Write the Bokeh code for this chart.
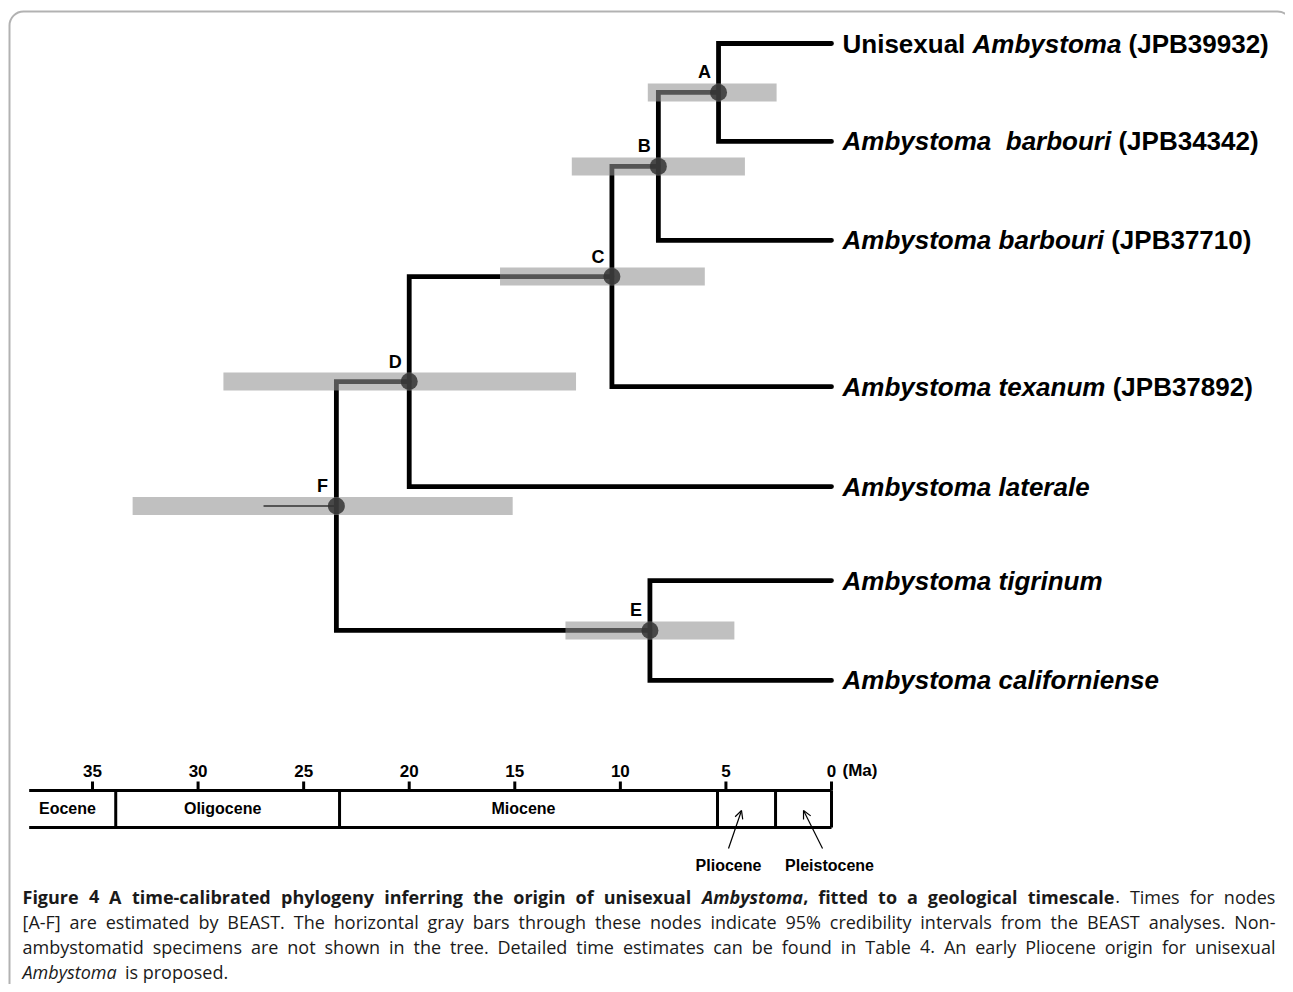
from bokeh.plotting import figure
from bokeh.models import Range1d, BoxAnnotation, Arrow, OpenHead, ColumnDataSource
from bokeh.core.properties import value, field
from bokeh.embed import file_html
from bokeh.resources import INLINE

# ---------------- data ----------------
# tips, top to bottom; each label is a list of (text, style, spaces before) runs
tip_labels = [
    [("Unisexual", "bold", 0), ("Ambystoma", "bold italic", 1), ("(JPB39932)", "bold", 1)],
    [("Ambystoma", "bold italic", 0), ("barbouri", "bold italic", 2), ("(JPB34342)", "bold", 1)],
    [("Ambystoma barbouri", "bold italic", 0), ("(JPB37710)", "bold", 1)],
    [("Ambystoma texanum", "bold italic", 0), ("(JPB37892)", "bold", 1)],
    [("Ambystoma laterale", "bold italic", 0)],
    [("Ambystoma tigrinum", "bold italic", 0)],
    [("Ambystoma californiense", "bold italic", 0)],
]
tip_rows = [0.0, 0.99, 1.99, 3.47, 4.48, 5.43, 6.44]

node_names = ["A", "B", "C", "D", "E", "F"]
node_age = [5.35, 8.2, 10.4, 20.0, 8.6, 23.45]        # Ma
hpd_young = [2.6, 4.1, 6.0, 12.1, 4.6, 15.1]          # 95% interval, young end (Ma)
hpd_old = [8.7, 12.3, 15.7, 28.8, 12.6, 33.1]         # 95% interval, old end (Ma)
node_children = [("t0", "t1"), ("A", "t2"), ("B", "t3"), ("C", "t4"), ("t5", "t6"), ("D", "E")]
root_stem_age = 26.9

epochs = ["Eocene", "Oligocene", "Miocene", "Pliocene", "Pleistocene"]
epoch_old = [38.0, 33.9, 23.3, 5.4, 2.65]
epoch_young = [33.9, 23.3, 5.4, 2.65, 0.0]
tick_values = [35, 30, 25, 20, 15, 10, 5, 0]
tick_labels = ["35", "30", "25", "20", "15", "10", "5", "0"]

caption_runs = [
    [("Figure 4 A time-calibrated phylogeny inferring the origin of unisexual ", "bold"),
     ("Ambystoma", "bold italic"), (", fitted to a geological timescale", "bold"),
     (". Times for nodes", "normal")],
    [("[A-F] are estimated by BEAST. The horizontal gray bars through these nodes indicate "
      "95% credibility intervals from the BEAST analyses. Non-", "normal")],
    [("ambystomatid specimens are not shown in the tree. Detailed time estimates can be found "
      "in Table 4. An early Pliocene origin for unisexual", "normal")],
    [("Ambystoma", "italic"), (" is proposed.", "normal")],
]
caption_justify = [True, True, True, False]

# ---------------- layout ----------------
FIG_W, FIG_H, PAGE_OFF = 1285, 984, 0
PX_PER_MA = 21.114
X0_PAGE = 831.0        # page x of 0 Ma
ROW_PX = 98.9
ROW0_PAGE = 43.0


def ma_at(px):
    return (X0_PAGE - px) / PX_PER_MA


def row_at(py):
    return (py - ROW0_PAGE) / ROW_PX


# font metrics (em units) for placing mixed-style runs
AB = {' ': .278, '(': .333, ')': .333, 'A': .722, 'B': .722, 'J': .556, 'P': .667, 'U': .722,
      'a': .556, 'b': .611, 'c': .556, 'e': .556, 'f': .333, 'g': .611, 'i': .278, 'l': .278,
      'm': .889, 'n': .611, 'o': .611, 'r': .389, 's': .556, 't': .333, 'u': .611, 'x': .556,
      'y': .556}
for d in "0123456789":
    AB[d] = .556

OS_R = {' ': .26, 'a': .556, 'b': .613, 'c': .476, 'd': .613, 'e': .561, 'f': .339, 'g': .548,
        'h': .614, 'i': .253, 'j': .253, 'k': .525, 'l': .253, 'm': .93, 'n': .614, 'o': .604,
        'p': .613, 'q': .613, 'r': .408, 's': .477, 't': .353, 'u': .614, 'v': .501, 'w': .778,
        'x': .524, 'y': .502, 'z': .462, 'A': .633, 'B': .648, 'C': .631, 'D': .729, 'E': .556,
        'F': .516, 'N': .754, 'P': .602, 'S': .549, 'T': .553, '.': .266, ',': .244, '-': .322,
        '[': .324, ']': .324, '%': .828, '(': .296, ')': .296}
OS_B = {' ': .26, 'a': .602, 'b': .635, 'c': .514, 'd': .635, 'e': .592, 'f': .389, 'g': .561,
        'h': .663, 'i': .306, 'l': .306, 'm': 1.005, 'n': .663, 'o': .628, 'p': .635, 'r': .454,
        's': .518, 't': .431, 'u': .663, 'x': .590, 'y': .569, 'A': .722, 'F': .567, ',': .285,
        '.': .286, '-': .322}
for d in "0123456789":
    OS_R[d] = .572
    OS_B[d] = .572


def os_width(s, style, size):
    w = 0.0
    for ch in s:
        if style == "bold":
            w += OS_B.get(ch, OS_R.get(ch, .55) * 1.06)
        elif style == "italic":
            w += OS_R.get(ch, .55) * 0.97
        elif style == "bold italic":
            w += OS_B.get(ch, .58) * 0.92
        else:
            w += OS_R.get(ch, .55)
    return w * size


def ab_width(s, size):
    return sum(AB.get(ch, .6) for ch in s) * size


# ---------------- figure ----------------
p = figure(width=FIG_W, height=FIG_H,
           x_range=Range1d(ma_at(PAGE_OFF), ma_at(PAGE_OFF + FIG_W)),
           y_range=Range1d(row_at(PAGE_OFF + FIG_H), row_at(PAGE_OFF)),
           output_backend="svg", toolbar_location=None,
           x_axis_location=None, y_axis_location=None,
           min_border=0, min_border_left=0, min_border_right=0,
           min_border_top=0, min_border_bottom=0)
p.grid.visible = False
p.outline_line_color = None
p.background_fill_color = "white"
p.border_fill_color = "white"

# frame with rounded corners
p.add_layout(BoxAnnotation(left=ma_at(9), right=ma_at(1291), top=row_at(11), bottom=row_at(1200),
                           fill_alpha=0, line_color="black", line_width=2, border_radius=14))

# ---------------- tree ----------------
pos = {}
for i, r in enumerate(tip_rows):
    pos[f"t{i}"] = (0.0, r)
for name, age, (c1, c2) in zip(node_names, node_age, node_children):
    pos[name] = (age, (pos[c1][1] + pos[c2][1]) / 2.0)

xs, ys = [], []
for name, (c1, c2) in zip(node_names, node_children):
    a, _ = pos[name]
    (a1, r1), (a2, r2) = pos[c1], pos[c2]
    xs.append([a1, a, a, a2])
    ys.append([r1, r1, r2, r2])
p.multi_line(xs, ys, line_color="black", line_width=4.8, line_join="miter", line_cap="round")

f_age, f_row = pos["F"]
p.segment(x0=[root_stem_age], y0=[f_row], x1=[f_age], y1=[f_row], line_color="black", line_width=2)

node_rows = [pos[n][1] for n in node_names]
p.hbar(y=node_rows, left=hpd_old, right=hpd_young, height=18 / ROW_PX,
       fill_color="#929292", fill_alpha=0.58, line_color=None)
p.scatter(x=node_age, y=node_rows, size=17, marker="circle",
          fill_color="#333333", fill_alpha=0.85, line_color=None)

p.text(x=[a + 14 / PX_PER_MA for a in node_age], y=[r - 20 / ROW_PX for r in node_rows],
       text=node_names, text_font=value("Liberation Sans"), text_font_style="bold",
       text_font_size=value("18px"), text_align="center", text_baseline="middle",
       text_color="black")

# tip labels
TIP_SIZE = 26
tip_src = dict(x=[], y=[], text=[], style=[])
for runs, r in zip(tip_labels, tip_rows):
    cur = 11.0
    for txt, sty, nsp in runs:
        cur += nsp * AB[' '] * TIP_SIZE
        tip_src["x"].append(0.0 - cur / PX_PER_MA)
        tip_src["y"].append(r)
        tip_src["text"].append(txt)
        tip_src["style"].append(sty)
        cur += ab_width(txt, TIP_SIZE)
p.text(x="x", y="y", text="text", source=ColumnDataSource(tip_src),
       text_font=value("Liberation Sans"), text_font_style=field("style"),
       text_font_size=value(f"{TIP_SIZE}px"), text_align="left", text_baseline="middle",
       text_color="black")

# ---------------- timescale ----------------
TS_TOP, TS_BOT = row_at(790), row_at(827)
TICK_TOP = row_at(781)
left_end = epoch_old[0]
p.segment(x0=[left_end, left_end], y0=[TS_TOP, TS_BOT], x1=[0, 0], y1=[TS_TOP, TS_BOT],
          line_color="black", line_width=3)
p.segment(x0=epoch_young, y0=[TS_TOP] * len(epoch_young), x1=epoch_young,
          y1=[TS_BOT] * len(epoch_young), line_color="black", line_width=3)
p.segment(x0=tick_values, y0=[TS_TOP] * len(tick_values), x1=tick_values,
          y1=[TICK_TOP] * len(tick_values), line_color="black", line_width=3)
p.text(x=tick_values, y=[row_at(770)] * len(tick_values), text=tick_labels,
       text_font=value("Liberation Sans"), text_font_style="bold", text_font_size=value("17px"),
       text_align="center", text_baseline="middle", text_color="black")
p.text(x=[0 - 11 / PX_PER_MA], y=[row_at(770)], text=["(Ma)"],
       text_font=value("Liberation Sans"), text_font_style="bold", text_font_size=value("17px"),
       text_align="left", text_baseline="middle", text_color="black")

mids = [(o + y) / 2 for o, y in zip(epoch_old, epoch_young)]
inside = [0, 1, 2]
p.text(x=[mids[i] + 5 / PX_PER_MA for i in inside], y=[row_at(808)] * len(inside),
       text=[epochs[i] for i in inside],
       text_font=value("Liberation Sans"), text_font_style="bold", text_font_size=value("16px"),
       text_align="center", text_baseline="middle", text_color="black")

# Pliocene / Pleistocene labels below with arrows
below = [3, 4]
tail_dx = [-18, 19]
label_dx = [-18, 26]
for i, tdx in zip(below, tail_dx):
    head_x = mids[i] + (5 / PX_PER_MA if i == 3 else 0)
    tail_x = mids[i] - tdx / PX_PER_MA
    p.add_layout(Arrow(end=OpenHead(size=8, line_width=1.2, line_color="black"),
                       x_start=tail_x, y_start=row_at(848), x_end=head_x, y_end=row_at(810),
                       line_width=1.2, line_color="black"))
p.text(x=[mids[i] - ldx / PX_PER_MA for i, ldx in zip(below, label_dx)],
       y=[row_at(865)] * 2, text=[epochs[i] for i in below],
       text_font=value("Liberation Sans"), text_font_style="bold", text_font_size=value("16px"),
       text_align="center", text_baseline="middle", text_color="black")

# ---------------- caption ----------------
CAP_SIZE = 18
CAP_LEFT, CAP_RIGHT = 22.0, 1275.0
cap_baselines = [896, 921, 946, 971]
cap_src = dict(x=[], y=[], text=[], style=[])
for runs, just, base in zip(caption_runs, caption_justify, cap_baselines):
    words = [[]]
    for txt, sty in runs:
        parts = txt.split(" ")
        for j, part in enumerate(parts):
            if j > 0:
                words.append([])
            if part:
                words[-1].append((part, sty))
    words = [w for w in words if w]
    widths = [sum(os_width(t, s, CAP_SIZE) for t, s in w) for w in words]
    if just and len(words) > 1:
        gap = (CAP_RIGHT - CAP_LEFT - sum(widths)) / (len(words) - 1)
    else:
        gap = OS_R[' '] * CAP_SIZE
    cur = CAP_LEFT
    for w, ww in zip(words, widths):
        c = cur
        for t, s in w:
            cap_src["x"].append(ma_at(c))
            cap_src["y"].append(row_at(base))
            cap_src["text"].append(t)
            cap_src["style"].append(s)
            c += os_width(t, s, CAP_SIZE)
        cur += ww + gap
p.text(x="x", y="y", text="text", source=ColumnDataSource(cap_src),
       text_font=value("Open Sans"), text_font_style=field("style"),
       text_font_size=value(f"{CAP_SIZE}px"), text_align="left", text_baseline="alphabetic",
       text_color="#1a1a1a")

open("out.html", "w").write(file_html(p, INLINE))
